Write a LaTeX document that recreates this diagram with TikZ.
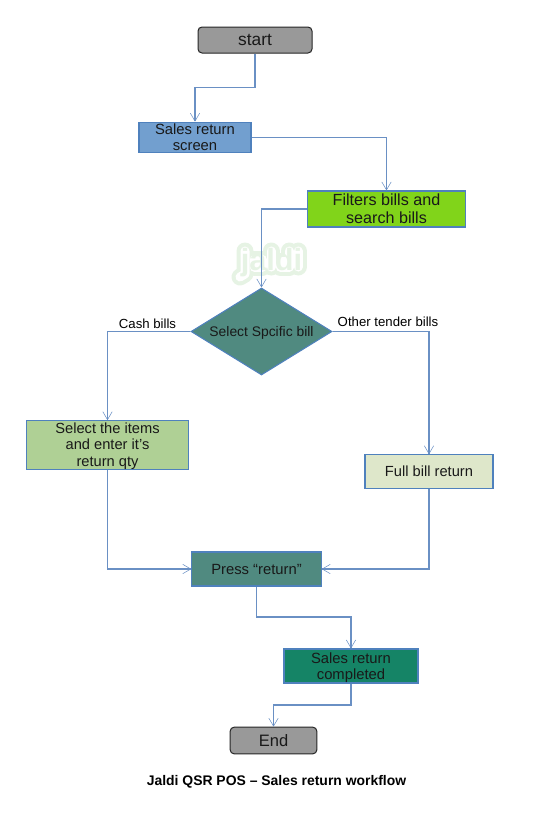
\documentclass[tikz,border=0pt]{standalone}
\usepackage{fontspec}
\setmainfont{Liberation Sans}
\usetikzlibrary{shapes.geometric,arrows.meta,calc}
\definecolor{linkblue}{HTML}{6A90C4}
\definecolor{edgeblue}{HTML}{4F81BD}
\definecolor{ggrey}{HTML}{999999}
\definecolor{sblue}{HTML}{729FCF}
\definecolor{lime}{HTML}{81D41A}
\definecolor{teal1}{HTML}{508A80}
\definecolor{sgreen}{HTML}{AFD095}
\definecolor{pale}{HTML}{DEE7CA}
\definecolor{dgreen}{HTML}{158466}
\definecolor{wm}{HTML}{E6F3E4}
\tikzset{
  terminal/.style={draw=black!85,fill=ggrey,rounded corners=3pt,line width=.75pt,text=black!90,align=center,inner sep=0pt},
  procbox/.style={draw=edgeblue,line width=.8pt,align=center,inner sep=0pt,text=black!90},
  link/.style={draw=linkblue,line width=.8pt,-{Straight Barb[length=6pt,width=7pt,line width=.4pt]}},
  lbl/.style={inner sep=0pt,font=\fontsize{9.9pt}{11pt}\selectfont,text=black},
  wmstroke/.style={line cap=round,line join=round},
}
\newcommand{\wmletters}[1]{%
  \draw[wmstroke,#1] (245,251) -- (245,274) -- (240,277);
  \draw[wmstroke,#1] (254,259) -- (262,259) -- (262,267) -- (254,267) -- cycle;
  \draw[wmstroke,#1] (271,251) -- (271,267);
  \draw[wmstroke,#1] (280,261) -- (289,261) -- (289,267) -- (280,267) -- cycle;
  \draw[wmstroke,#1] (289,251) -- (289,267);
  \draw[wmstroke,#1] (298,251) -- (298,267);
}
\begin{document}
\begin{tikzpicture}[x=0.75pt,y=-0.75pt]
\useasboundingbox (0,0) rectangle (544,822);
% watermark
\wmletters{draw=wm,line width=12.75pt}
\wmletters{draw=white,line width=6.75pt}
\node[inner sep=0pt,anchor=base,text=wm,font=\bfseries\fontsize{23pt}{23pt}\selectfont] (wmtext) at (271.5,270) {jaldi};
% nodes
\node[terminal,minimum width=85.5pt,minimum height=19.5pt,font=\fontsize{13pt}{14pt}\selectfont] (start) at (255,40) {start};
\node[procbox,fill=sblue,minimum width=84pt,minimum height=22.5pt,font=\fontsize{11.1pt}{12pt}\selectfont] (sales) at (195,137.2) {Sales return\\screen};
\node[procbox,fill=lime,minimum width=119pt,minimum height=27pt,font=\fontsize{12.1pt}{13.5pt}\selectfont] (filters) at (386.5,209) {Filters bills and\\search bills};
\node[diamond,aspect=1.62,draw=edgeblue,line width=.8pt,fill=teal1,minimum width=105.75pt,minimum height=65.25pt,inner sep=0pt,text=black!90,font=\fontsize{10.4pt}{12pt}\selectfont] (pick) at (261.5,331.5) {\rule{0pt}{9pt}Select Spcific bill};
\node[procbox,fill=sgreen,minimum width=121pt,minimum height=36pt,font=\fontsize{11pt}{12.3pt}\selectfont] (items) at (107.5,445) {\rule{0pt}{9.5pt}Select the items\\and enter it’s\\return qty};
\node[procbox,fill=pale,minimum width=96pt,minimum height=25pt,font=\fontsize{11pt}{12pt}\selectfont] (full) at (429,471.5) {Full bill return};
\node[procbox,fill=teal1,minimum width=97pt,minimum height=25.5pt,font=\fontsize{11.1pt}{12pt}\selectfont] (press) at (256.5,569) {Press “return”};
\node[procbox,fill=dgreen,minimum width=100.5pt,minimum height=25.5pt,font=\fontsize{11.1pt}{12pt}\selectfont] (done) at (351,666) {\rule{0pt}{10.2pt}Sales return\\completed};
\node[terminal,minimum width=65pt,minimum height=20pt,font=\fontsize{12.4pt}{13pt}\selectfont] (end) at (273.5,740.5) {End};
\node[inner sep=0pt,font=\bfseries\fontsize{10.45pt}{12pt}\selectfont] (title) at (276.5,781.5) {Jaldi QSR POS – Sales return workflow};
\node[lbl] (cash) at (147.5,323.5) {Cash bills};
\node[lbl] (other) at (388,321.5) {Other tender bills};
% connectors
\coordinate (b1) at (255,87.5);
\coordinate (b2) at (256.5,617);
\coordinate (b3) at (351,705);
\draw[link] (start.south) -- (b1) -| (sales.north);
\draw[link] (sales.east) -| (filters.north);
\draw[link] (filters.west) -| (pick.north);
\draw[link] (pick.west) -| (items.north);
\draw[link] (pick.east) -| (full.north);
\draw[link] (items.south) |- (press.west);
\draw[link] (full.south) |- (press.east);
\draw[link] (press.south) -- (b2) -| (done.north);
\draw[link] (done.south) -- (b3) -| (end.north);
\end{tikzpicture}
\end{document}
